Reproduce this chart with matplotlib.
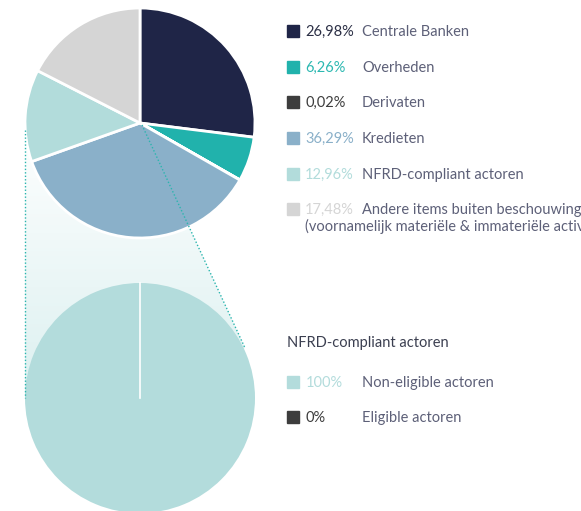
import numpy as np
import matplotlib.pyplot as plt
from matplotlib.path import Path
from matplotlib.patches import PathPatch
from matplotlib.colors import LinearSegmentedColormap

plt.rcParams['font.family'] = ['Lato', 'DejaVu Sans']

# top pie
labels = ['Centrale Banken', 'Overheden', 'Derivaten', 'Kredieten',
          'NFRD-compliant actoren',
          'Andere items buiten beschouwing\n(voornamelijk materiële & immateriële activa)']
shares = [26.98, 6.26, 0.02, 36.29, 12.96, 17.48]
pct_text = ['26,98%', '6,26%', '0,02%', '36,29%', '12,96%', '17,48%']
colors = ['#1f2547', '#21b2ac', '#3d3d3d', '#8ab0c9', '#b2dcdb', '#d5d5d5']
pct_colors = ['#2b2f45', '#2bb8b1', '#3d3d3d', '#8ab0c9', '#b2dcdb', '#d5d5d5']

# bottom pie (breakdown of NFRD-compliant)
sub_title = 'NFRD-compliant actoren'
sub_labels = ['Non-eligible actoren', 'Eligible actoren']
sub_shares = [100, 0]
sub_pct = ['100%', '0%']
sub_colors = ['#b3dcdc', '#3d3d3d']
sub_pct_colors = ['#b3dcdc', '#3d3d3d']

W, H = 581, 511
fig = plt.figure(figsize=(W / 100, H / 100), dpi=100)
ax = fig.add_axes([0, 0, 1, 1])

top_c = (140, H - 123)
bot_c = (140, H - 398)
R = 115

# gradient connector area between the two pies
verts = [(25, H - 130), (142, H - 125), (245, H - 348), bot_c, (25, bot_c[1]), (25, H - 130)]
poly = PathPatch(Path(verts), facecolor='none', edgecolor='none')
ax.add_patch(poly)
grad = np.linspace(0, 1, 256).reshape(-1, 1)
cmap = LinearSegmentedColormap.from_list('g', ['#dcf0f0', '#ffffff'])
im = ax.imshow(grad, extent=[25, 245, bot_c[1], H - 122], cmap=cmap, aspect='auto',
               origin='lower', zorder=0)
im.set_clip_path(poly)

ax.pie(shares, colors=colors, startangle=90, counterclock=False, radius=R,
       center=top_c, wedgeprops=dict(edgecolor='white', linewidth=2))
ax.pie([s if s > 0 else 1e-9 for s in sub_shares], colors=sub_colors, startangle=90,
       counterclock=False, radius=R, center=bot_c,
       wedgeprops=dict(edgecolor='none'))
ax.plot([bot_c[0], bot_c[0]], [bot_c[1], bot_c[1] + R], color='white', lw=1.2, zorder=5)

dot_kw = dict(color='#2ab5ae', lw=1, ls=(0, (1, 1.5)), zorder=6)
ax.plot([25, 25], [H - 130, bot_c[1]], **dot_kw)
ax.plot([142, 245], [H - 125, H - 348], **dot_kw)

ax.set_xlim(0, W)
ax.set_ylim(0, H)
ax.set_aspect('equal')
ax.axis('off')

label_color = '#5d6078'
fs = 10.5
base = 5  # baseline sits this many px below the row centre
rows_y = [31, 67, 102, 138, 174, 209]
for y, c, p, pc, lab in zip(rows_y, colors, pct_text, pct_colors, labels):
    ax.add_patch(plt.Rectangle((287, H - y - 6), 12, 12, color=c, zorder=3))
    ax.text(305, H - y - base, p, color=pc, fontsize=fs, va='baseline', ha='left')
    for k, line in enumerate(lab.split('\n')):
        x = 362 if k == 0 else 305
        ax.text(x, H - y - base - 17 * k, line, color=label_color, fontsize=fs,
                va='baseline', ha='left')

ax.text(287, H - 342 - base, sub_title, color='#3b3f50', fontsize=fs, va='baseline', ha='left')
for y, c, p, pc, lab in zip([382, 417], sub_colors, sub_pct, sub_pct_colors, sub_labels):
    ax.add_patch(plt.Rectangle((287, H - y - 6), 12, 12, color=c, zorder=3))
    ax.text(306, H - y - base, p, color=pc, fontsize=fs, va='baseline', ha='left')
    ax.text(362, H - y - base, lab, color=label_color, fontsize=fs, va='baseline', ha='left')

fig.savefig('out.png', dpi=100)
